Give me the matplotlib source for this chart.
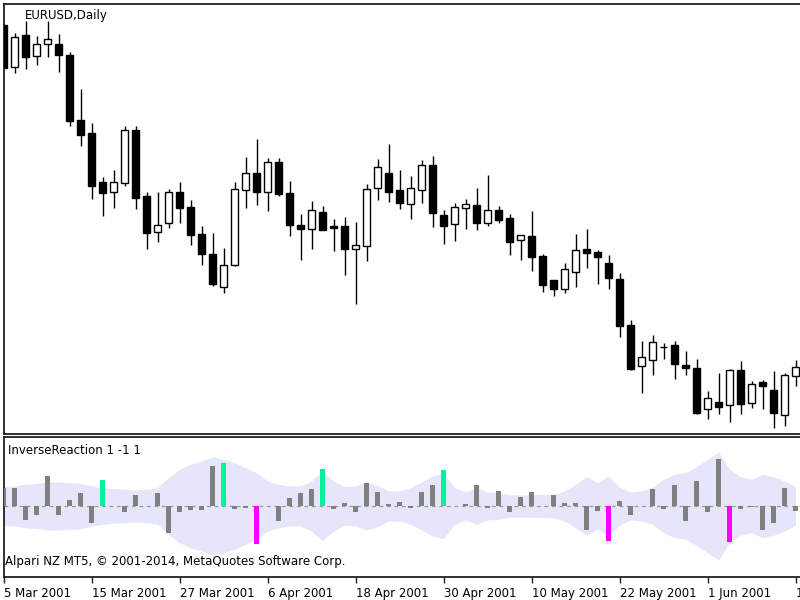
import matplotlib
matplotlib.use("Agg")
import matplotlib.pyplot as plt
from matplotlib.transforms import ScaledTranslation

# ---------------- data ----------------
opens = [0.9370, 0.9287, 0.9350, 0.9309, 0.9333, 0.9333, 0.9310, 0.9180, 0.9155, 0.9057,
         0.9037, 0.9055, 0.9161, 0.9029, 0.8957, 0.8975, 0.9037, 0.9007, 0.8952, 0.8913,
         0.8847, 0.8890, 0.9041, 0.9075, 0.9037, 0.9097, 0.9035, 0.8971, 0.8962, 0.8996,
         0.8969, 0.8969, 0.8923, 0.8929, 0.9045, 0.9075, 0.9040, 0.9013, 0.9041, 0.9090,
         0.8990, 0.8972, 0.9005, 0.9010, 0.8975, 0.9001, 0.8985, 0.8940, 0.8949, 0.8908,
         0.8861, 0.8843, 0.8877, 0.8922, 0.8916, 0.8895, 0.8863, 0.8770, 0.8688, 0.8701,
         0.8727, 0.8730, 0.8691, 0.8685, 0.8602, 0.8615, 0.8610, 0.8680, 0.8615, 0.8656,
         0.8641, 0.8591, 0.8669]
highs = [0.9372, 0.9355, 0.9378, 0.9349, 0.9378, 0.9353, 0.9317, 0.9243, 0.9175, 0.9067,
         0.9081, 0.9169, 0.9169, 0.9037, 0.9037, 0.9043, 0.9057, 0.9021, 0.8968, 0.8955,
         0.8925, 0.9057, 0.9107, 0.9142, 0.9105, 0.9105, 0.9059, 0.8992, 0.9018, 0.9009,
         0.8983, 0.8987, 0.8977, 0.9053, 0.9103, 0.9133, 0.9081, 0.9068, 0.9101, 0.9109,
         0.9001, 0.9015, 0.9023, 0.9045, 0.9070, 0.9009, 0.8992, 0.8951, 0.8999, 0.8913,
         0.8861, 0.8895, 0.8952, 0.8963, 0.8921, 0.8911, 0.8875, 0.8781, 0.8738, 0.8751,
         0.8735, 0.8738, 0.8718, 0.8703, 0.8639, 0.8675, 0.8683, 0.8699, 0.8658, 0.8660,
         0.8678, 0.8675, 0.8700]
lows = [0.9284, 0.9275, 0.9283, 0.9291, 0.9307, 0.9277, 0.9168, 0.9129, 0.9022, 0.8989,
        0.9005, 0.9049, 0.9003, 0.8923, 0.8937, 0.8965, 0.8975, 0.8931, 0.8890, 0.8849,
        0.8835, 0.8889, 0.9005, 0.9011, 0.8998, 0.9028, 0.8948, 0.8901, 0.8923, 0.8960,
        0.8918, 0.8871, 0.8813, 0.8899, 0.9021, 0.9017, 0.9002, 0.8983, 0.9015, 0.8967,
        0.8933, 0.8939, 0.8963, 0.8961, 0.8969, 0.8975, 0.8911, 0.8900, 0.8879, 0.8837,
        0.8829, 0.8835, 0.8846, 0.8885, 0.8853, 0.8843, 0.8747, 0.8681, 0.8635, 0.8671,
        0.8703, 0.8662, 0.8670, 0.8592, 0.8582, 0.8592, 0.8577, 0.8593, 0.8605, 0.8603,
        0.8565, 0.8569, 0.8648]
closes = [0.9285, 0.9347, 0.9307, 0.9333, 0.9342, 0.9310, 0.9178, 0.9151, 0.9049, 0.9035,
          0.9057, 0.9160, 0.9025, 0.8955, 0.8971, 0.9037, 0.9005, 0.8950, 0.8912, 0.8853,
          0.8891, 0.9042, 0.9075, 0.9037, 0.9097, 0.9032, 0.8970, 0.8962, 0.9001, 0.8961,
          0.8964, 0.8923, 0.8930, 0.9042, 0.9087, 0.9037, 0.9015, 0.9045, 0.9090, 0.8995,
          0.8969, 0.9007, 0.9012, 0.8975, 0.9001, 0.8980, 0.8937, 0.8949, 0.8907, 0.8851,
          0.8843, 0.8883, 0.8921, 0.8915, 0.8907, 0.8865, 0.8769, 0.8683, 0.8705, 0.8737,
          0.8726, 0.8692, 0.8685, 0.8595, 0.8625, 0.8607, 0.8680, 0.8612, 0.8653, 0.8648,
          0.8595, 0.8670, 0.8685]

# InverseReaction histogram values and confidence level (points)
ir_values = [17.7, 17.7, -14, -9, 30.3, -9, 5.7, 12.7, -16.7, 26,
             0.3, -6.3, 11, -0.3, 12.7, -27.3, -6.3, -4, -4, 40,
             42.7, -3, -2.3, -38, 0.3, -14.7, 8.3, 12.7, 16.7, 37,
             -3.3, 3.3, -6.3, 22.7, 14.3, 1.7, 4.3, -2.3, 14.3, 21,
             36, 0.3, 2, 21, -2.3, 15.3, -5.7, 8.7, 13.7, 0.3,
             11, 2.7, 2.7, -24, -5, -35, 5.3, -9, 0.3, 16.7,
             -3.3, 21, -14.7, 25, -6.3, 47, -36.3, -3.3, -0.7, -24,
             -17.3, 18.3, -5]
ir_level = [19.3, 20, 21.7, 22.7, 24, 24, 23.3, 22.7, 20, 18.3,
            17.3, 16.7, 16, 16.7, 18.3, 28.3, 36.7, 41.7, 45, 49.3,
            46.7, 43.3, 38.3, 33.3, 25, 21.7, 20, 20, 25, 35,
            25, 19.3, 20, 24, 20.7, 15, 15, 18.3, 24, 30,
            32.7, 18.3, 14, 18.3, 14, 13.3, 11.3, 11, 11.3, 11.7,
            11.7, 15, 21.7, 29.3, 23.3, 30, 19, 14, 15, 18.3,
            26.7, 31.7, 33.3, 39.3, 46.7, 54, 36.7, 29.3, 26.7, 31.7,
            29.3, 25, 19.3]
# signal: 1 = up signal (green), -1 = down signal (magenta), 0 = none
ir_signal = [0] * 73
for _i in (9, 20, 29, 40):
    ir_signal[_i] = 1
for _i in (23, 55, 66):
    ir_signal[_i] = -1

tick_labels = ["5 Mar 2001", "15 Mar 2001", "27 Mar 2001", "6 Apr 2001",
               "18 Apr 2001", "30 Apr 2001", "10 May 2001", "22 May 2001",
               "1 Jun 2001", "13 Jun 2001"]
tick_step = 8

# ---------------- figure ----------------
W, H = 800, 600
fig = plt.figure(figsize=(8, 6), dpi=100)
fig.patch.set_facecolor("white")
plt.rcParams["font.family"] = ["DejaVu Sans"]
FS = 8.5

def px_axes(x0, y0, x1, y1):
    return fig.add_axes([x0 / W, 1 - y1 / H, (x1 - x0) / W, (y1 - y0) / H])

n = len(opens)
xs = list(range(n))
ax = px_axes(3.5, 3.5, 801, 434)
ax2 = px_axes(3.5, 437, 801, 577)

# candles
ax.vlines(xs, lows, highs, color="black", linewidth=1.0, zorder=2)
bottoms = [min(o, c) for o, c in zip(opens, closes)]
heights = [max(abs(c - o), 0.00003) for o, c in zip(opens, closes)]
face = ["white" if c > o else "black" for o, c in zip(opens, closes)]
ax.bar(xs, heights, bottom=bottoms, width=0.56, color=face,
       edgecolor="black", linewidth=1.0, zorder=3)
ax.set_xlim(0, 72.5)
ax.set_ylim(0.8552, 0.9413)
ax.set_xticks([])
ax.set_yticks([])
for s in ("left", "top", "bottom"):
    ax.spines[s].set_linewidth(1.3)
    ax.spines[s].set_color("#202020")
ax.spines["right"].set_visible(False)

# indicator
neg = [-v for v in ir_level]
ax2.fill_between(xs, neg, ir_level, color="#e6e6fa", linewidth=0, zorder=1)
ax2.axhline(0, color="#9a9a9a", linewidth=0.9, linestyle=(0, (3, 3)), zorder=2)
cmap = {0: "#808080", 1: "#00f29a", -1: "#ff00ff"}
bar_colors = [cmap[s] for s in ir_signal]
ax2.bar(xs, ir_values, width=0.45, color=bar_colors, linewidth=0, zorder=3)
ax2.set_xlim(0, 72.5)
ax2.set_ylim(-71, 69)
ax2.set_yticks([])
for s in ("left", "top", "bottom"):
    ax2.spines[s].set_linewidth(1.3)
    ax2.spines[s].set_color("#202020")
ax2.spines["right"].set_visible(False)

tpos = [i * tick_step for i in range(len(tick_labels))]
ax2.set_xticks(tpos, tick_labels)
ax2.tick_params(axis="x", direction="out", length=4.5, width=1.0,
                color="#202020", pad=2.5, labelsize=FS, labelcolor="black")
off = ScaledTranslation(1 / 100, 0, fig.dpi_scale_trans)
for lbl in ax2.get_xticklabels():
    lbl.set_horizontalalignment("left")
    lbl.set_transform(lbl.get_transform() + off)

# texts
fig.text(25 / W, 1 - 15 / H, "EURUSD,Daily", fontsize=FS, va="center", ha="left")
fig.text(8 / W, 1 - 450.5 / H, "InverseReaction 1 -1 1", fontsize=FS,
         va="center", ha="left")
fig.text(5 / W, 1 - 562 / H, "Alpari NZ MT5, \u00a9 2001-2014, MetaQuotes Software Corp.",
         fontsize=FS, va="center", ha="left")

fig.savefig("out.png", dpi=100, facecolor="white")
